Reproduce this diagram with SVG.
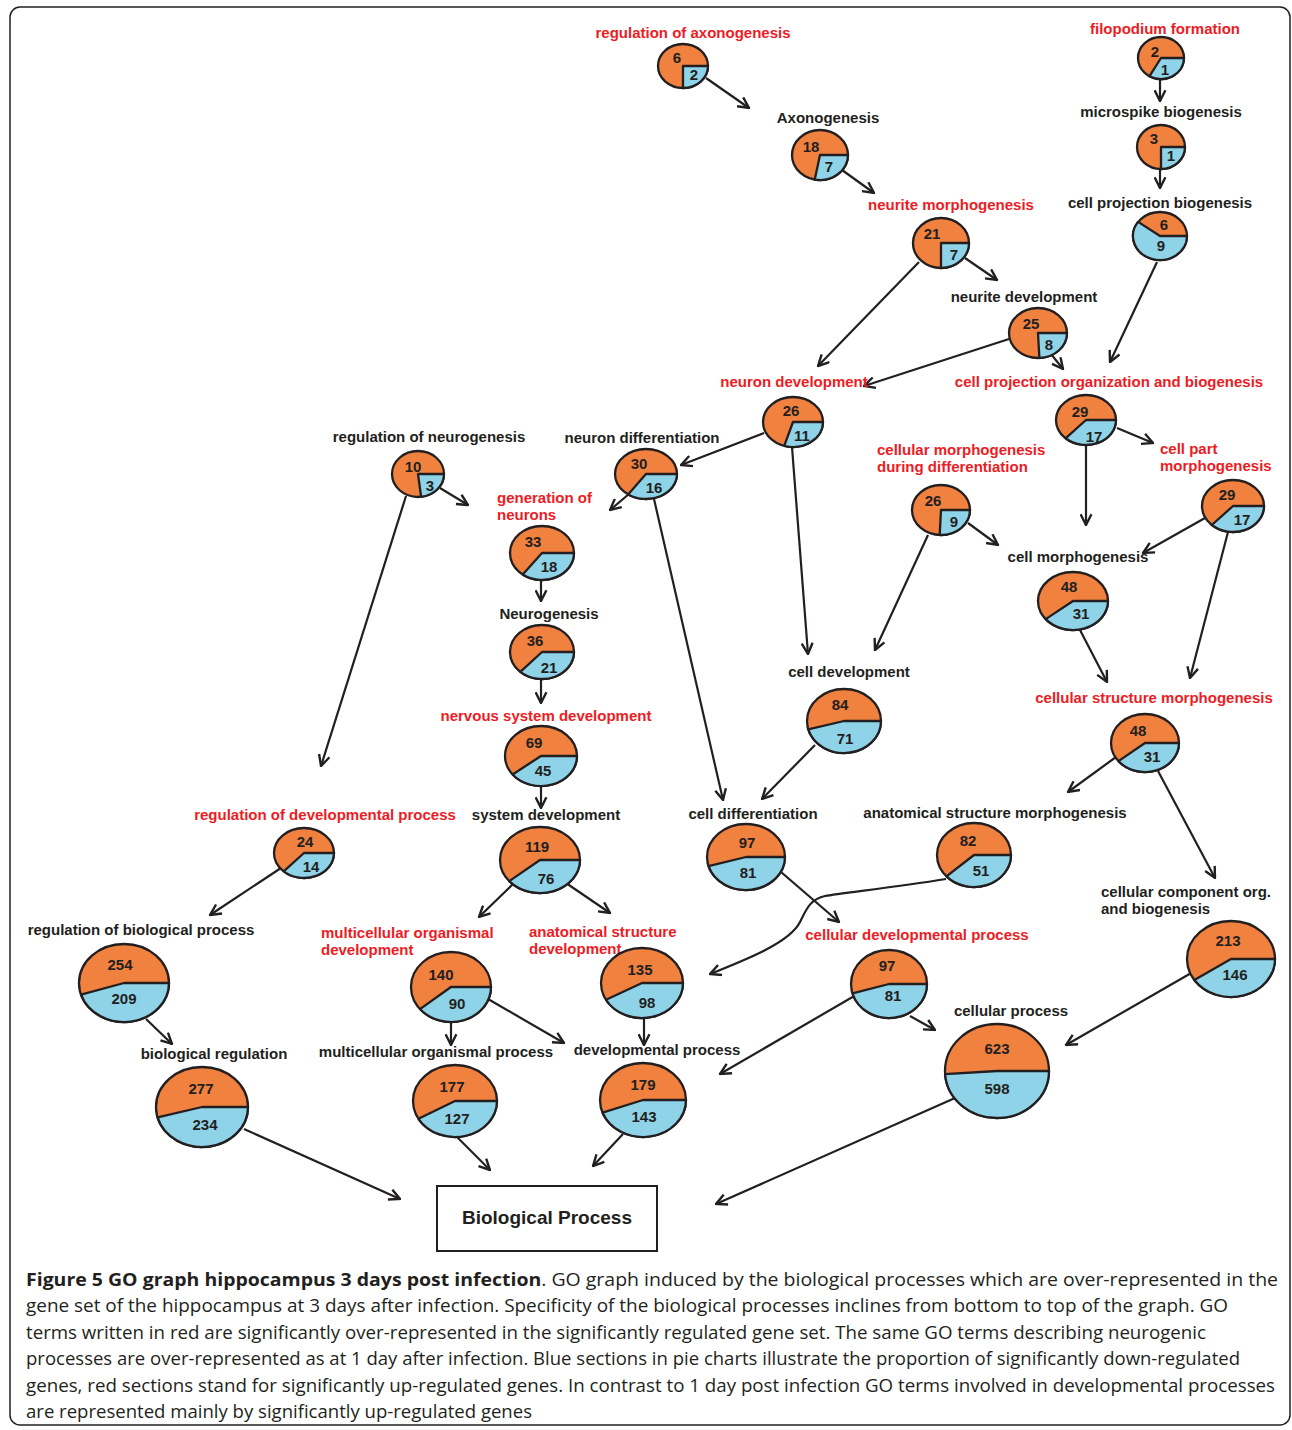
<svg xmlns="http://www.w3.org/2000/svg" width="1292" height="1430" viewBox="0 0 1292 1430">
<defs>
<style>
.lbl{font-family:"Liberation Sans",Arial,sans-serif;font-weight:bold;font-size:15px;fill:#231f20}
.c{text-anchor:middle}
.red{fill:#ed1c24}
.num{font-family:"Liberation Sans",Arial,sans-serif;font-weight:bold;font-size:15px;fill:#231f20;text-anchor:middle}
.po{fill:#f0813f;stroke:#231f20;stroke-width:2.3;vector-effect:non-scaling-stroke}
.pb{fill:#8fd3e8;stroke:#231f20;stroke-width:2.3;stroke-linejoin:round;vector-effect:non-scaling-stroke}
.edge{fill:none;stroke:#231f20;stroke-width:2.2;marker-end:url(#arr)}
.cap{font-family:"Open Sans","Noto Sans",sans-serif;font-size:18.5px;fill:#231f20}
</style>
<marker id="arr" viewBox="0 0 12 12" refX="11" refY="6" markerWidth="13" markerHeight="13" markerUnits="userSpaceOnUse" orient="auto">
<path d="M1,1 L11,6 L1,11" fill="none" stroke="#231f20" stroke-width="2.2"/>
</marker>
</defs>
<rect x="0" y="0" width="1292" height="1430" fill="#ffffff"/>
<rect x="10" y="7" width="1280" height="1418" rx="10" fill="none" stroke="#231f20" stroke-width="1.5"/>

<g id="connectors">
<line class="edge" x1="706" y1="78" x2="749" y2="108"/>
<line class="edge" x1="842" y1="170" x2="874" y2="193"/>
<line class="edge" x1="965" y1="258" x2="997" y2="280"/>
<line class="edge" x1="919" y1="262" x2="818" y2="366"/>
<line class="edge" x1="1160" y1="79" x2="1160" y2="101"/>
<line class="edge" x1="1160" y1="168" x2="1160" y2="188"/>
<line class="edge" x1="1157" y1="262" x2="1110" y2="362"/>
<line class="edge" x1="1009" y1="339" x2="864" y2="386"/>
<line class="edge" x1="1051" y1="354" x2="1063" y2="369"/>
<line class="edge" x1="764" y1="433" x2="681" y2="465"/>
<line class="edge" x1="792" y1="447" x2="808" y2="654"/>
<line class="edge" x1="629" y1="494" x2="610" y2="510"/>
<line class="edge" x1="654" y1="499" x2="723" y2="800"/>
<line class="edge" x1="440" y1="488" x2="468" y2="505"/>
<line class="edge" x1="406" y1="496" x2="321" y2="766"/>
<line class="edge" x1="541" y1="580" x2="541" y2="601"/>
<line class="edge" x1="541" y1="679" x2="541" y2="703"/>
<line class="edge" x1="541" y1="786" x2="541" y2="808"/>
<line class="edge" x1="1086" y1="445" x2="1086" y2="525"/>
<line class="edge" x1="1117" y1="428" x2="1153" y2="443"/>
<line class="edge" x1="968" y1="523" x2="998" y2="545"/>
<line class="edge" x1="928" y1="535" x2="875" y2="650"/>
<line class="edge" x1="1205" y1="518" x2="1143" y2="553"/>
<line class="edge" x1="1228" y1="532" x2="1190" y2="678"/>
<line class="edge" x1="1080" y1="630" x2="1107" y2="682"/>
<line class="edge" x1="1116" y1="757" x2="1068" y2="792"/>
<line class="edge" x1="1158" y1="771" x2="1215" y2="878"/>
<line class="edge" x1="815" y1="745" x2="762" y2="799"/>
<line class="edge" x1="281" y1="868" x2="210" y2="915"/>
<line class="edge" x1="513" y1="884" x2="479" y2="917"/>
<line class="edge" x1="566" y1="883" x2="610" y2="913"/>
<line class="edge" x1="781" y1="872" x2="839" y2="922"/>
<path class="edge" d="M946,879 C890,888 840,893 825,896 C810,899 806,910 800,922 C790,942 750,958 710,974"/>
<line class="edge" x1="146" y1="1019" x2="172" y2="1044"/>
<line class="edge" x1="451" y1="1022" x2="451" y2="1045"/>
<line class="edge" x1="488" y1="999" x2="564" y2="1043"/>
<line class="edge" x1="644" y1="1018" x2="644" y2="1045"/>
<line class="edge" x1="856" y1="995" x2="720" y2="1074"/>
<line class="edge" x1="910" y1="1016" x2="935" y2="1030"/>
<line class="edge" x1="1193" y1="972" x2="1066" y2="1045"/>
<line class="edge" x1="244" y1="1129" x2="400" y2="1199"/>
<line class="edge" x1="457" y1="1137" x2="490" y2="1170"/>
<line class="edge" x1="623" y1="1134" x2="593" y2="1166"/>
<line class="edge" x1="955" y1="1098" x2="716" y2="1204"/>
</g>

<g id="n-regulation-of-axonogenesis">
<text class="lbl red c" x="693" y="38">regulation of axonogenesis</text>
<g transform="translate(683,66) scale(25,22)"><circle class="po" r="1"/><path class="pb" d="M0,0 L1,0 A1,1 0 0 1 0,1 Z"/></g>
<text class="num" x="677" y="63">6</text><text class="num" x="694" y="80">2</text>
</g>

<g id="n-axonogenesis">
<text class="lbl c" x="828" y="123">Axonogenesis</text>
<g transform="translate(820,155) scale(28,25)"><circle class="po" r="1"/><path class="pb" d="M0,0 L1,0 A1,1 0 0 1 -0.1874,0.9823 Z"/></g>
<text class="num" x="811" y="152">18</text><text class="num" x="829" y="172">7</text>
</g>

<g id="n-neurite-morphogenesis">
<text class="lbl red c" x="951" y="210">neurite morphogenesis</text>
<g transform="translate(941,243) scale(28,25)"><circle class="po" r="1"/><path class="pb" d="M0,0 L1,0 A1,1 0 0 1 0,1 Z"/></g>
<text class="num" x="932" y="239">21</text><text class="num" x="954" y="260">7</text>
</g>

<g id="n-neurite-development">
<text class="lbl c" x="1024" y="302">neurite development</text>
<g transform="translate(1038,333) scale(29,25)"><circle class="po" r="1"/><path class="pb" d="M0,0 L1,0 A1,1 0 0 1 0.0476,0.9989 Z"/></g>
<text class="num" x="1031" y="329">25</text><text class="num" x="1049" y="350">8</text>
</g>

<g id="n-filopodium-formation">
<text class="lbl red c" x="1165" y="34">filopodium formation</text>
<g transform="translate(1161,58) scale(23,21)"><circle class="po" r="1"/><path class="pb" d="M0,0 L1,0 A1,1 0 0 1 -0.5,0.866 Z"/></g>
<text class="num" x="1155" y="57">2</text><text class="num" x="1165" y="75">1</text>
</g>

<g id="n-microspike-biogenesis">
<text class="lbl c" x="1161" y="117">microspike biogenesis</text>
<g transform="translate(1161,147) scale(24,22)"><circle class="po" r="1"/><path class="pb" d="M0,0 L1,0 A1,1 0 0 1 0,1 Z"/></g>
<text class="num" x="1154" y="144">3</text><text class="num" x="1171" y="161">1</text>
</g>

<g id="n-cell-projection-biogenesis">
<text class="lbl c" x="1160" y="208">cell projection biogenesis</text>
<g transform="translate(1160,236) scale(27,24)"><circle class="po" r="1"/><path class="pb" d="M0,0 L1,0 A1,1 0 1 1 -0.809,-0.5878 Z"/></g>
<text class="num" x="1164" y="230">6</text><text class="num" x="1161" y="251">9</text>
</g>

<g id="n-neuron-development">
<text class="lbl red c" x="794" y="387">neuron development</text>
<g transform="translate(793,422) scale(30,25)"><circle class="po" r="1"/><path class="pb" d="M0,0 L1,0 A1,1 0 0 1 -0.2928,0.9562 Z"/></g>
<text class="num" x="791" y="416">26</text><text class="num" x="802" y="441">11</text>
</g>

<g id="n-cell-projection-organization-and-biogenesis">
<text class="lbl red c" x="1109" y="387">cell projection organization and biogenesis</text>
<g transform="translate(1086,420) scale(30,25)"><circle class="po" r="1"/><path class="pb" d="M0,0 L1,0 A1,1 0 0 1 -0.6827,0.7307 Z"/></g>
<text class="num" x="1080" y="417">29</text><text class="num" x="1094" y="442">17</text>
</g>

<g id="n-regulation-of-neurogenesis">
<text class="lbl c" x="429" y="442">regulation of neurogenesis</text>
<g transform="translate(418,474) scale(26,23)"><circle class="po" r="1"/><path class="pb" d="M0,0 L1,0 A1,1 0 0 1 0.1205,0.9927 Z"/></g>
<text class="num" x="413" y="472">10</text><text class="num" x="430" y="491">3</text>
</g>

<g id="n-neuron-differentiation">
<text class="lbl c" x="642" y="443">neuron differentiation</text>
<g transform="translate(646,474) scale(31,25)"><circle class="po" r="1"/><path class="pb" d="M0,0 L1,0 A1,1 0 0 1 -0.5764,0.8171 Z"/></g>
<text class="num" x="639" y="469">30</text><text class="num" x="654" y="493">16</text>
</g>

<g id="n-generation-of-neurons">
<text class="lbl red" x="497" y="503">generation of</text>
<text class="lbl red" x="497" y="520">neurons</text>
<g transform="translate(542,553) scale(32,27)"><circle class="po" r="1"/><path class="pb" d="M0,0 L1,0 A1,1 0 0 1 -0.6026,0.798 Z"/></g>
<text class="num" x="533" y="547">33</text><text class="num" x="549" y="572">18</text>
</g>

<g id="n-neurogenesis">
<text class="lbl c" x="549" y="619">Neurogenesis</text>
<g transform="translate(542,652) scale(32,27)"><circle class="po" r="1"/><path class="pb" d="M0,0 L1,0 A1,1 0 0 1 -0.6775,0.7356 Z"/></g>
<text class="num" x="535" y="646">36</text><text class="num" x="549" y="673">21</text>
</g>

<g id="n-nervous-system-development">
<text class="lbl red c" x="546" y="721">nervous system development</text>
<g transform="translate(541,756) scale(36,30)"><circle class="po" r="1"/><path class="pb" d="M0,0 L1,0 A1,1 0 0 1 -0.7891,0.6143 Z"/></g>
<text class="num" x="534" y="748">69</text><text class="num" x="543" y="776">45</text>
</g>

<g id="n-system-development">
<text class="lbl c" x="546" y="820">system development</text>
<g transform="translate(540,860) scale(40,33)"><circle class="po" r="1"/><path class="pb" d="M0,0 L1,0 A1,1 0 0 1 -0.7694,0.6388 Z"/></g>
<text class="num" x="537" y="852">119</text><text class="num" x="546" y="884">76</text>
</g>

<g id="n-cellular-morphogenesis-during-differentiation">
<text class="lbl red" x="877" y="455">cellular morphogenesis</text>
<text class="lbl red" x="877" y="472">during differentiation</text>
<g transform="translate(941,510) scale(29,25)"><circle class="po" r="1"/><path class="pb" d="M0,0 L1,0 A1,1 0 0 1 -0.0449,0.999 Z"/></g>
<text class="num" x="933" y="506">26</text><text class="num" x="954" y="527">9</text>
</g>

<g id="n-cell-part-morphogenesis">
<text class="lbl red" x="1160" y="454">cell part</text>
<text class="lbl red" x="1160" y="471">morphogenesis</text>
<g transform="translate(1233,506) scale(31,26)"><circle class="po" r="1"/><path class="pb" d="M0,0 L1,0 A1,1 0 0 1 -0.6827,0.7307 Z"/></g>
<text class="num" x="1227" y="500">29</text><text class="num" x="1242" y="525">17</text>
</g>

<g id="n-cell-morphogenesis">
<text class="lbl c" x="1078" y="562">cell morphogenesis</text>
<g transform="translate(1073,601) scale(35,29)"><circle class="po" r="1"/><path class="pb" d="M0,0 L1,0 A1,1 0 0 1 -0.7803,0.6255 Z"/></g>
<text class="num" x="1069" y="592">48</text><text class="num" x="1081" y="619">31</text>
</g>

<g id="n-cell-development">
<text class="lbl c" x="849" y="677">cell development</text>
<g transform="translate(844,721) scale(37,32)"><circle class="po" r="1"/><path class="pb" d="M0,0 L1,0 A1,1 0 0 1 -0.9655,0.2605 Z"/></g>
<text class="num" x="840" y="710">84</text><text class="num" x="845" y="744">71</text>
</g>

<g id="n-cellular-structure-morphogenesis">
<text class="lbl red c" x="1154" y="703">cellular structure morphogenesis</text>
<g transform="translate(1145,743) scale(34,29)"><circle class="po" r="1"/><path class="pb" d="M0,0 L1,0 A1,1 0 0 1 -0.7803,0.6255 Z"/></g>
<text class="num" x="1138" y="736">48</text><text class="num" x="1152" y="762">31</text>
</g>

<g id="n-regulation-of-developmental-process">
<text class="lbl red c" x="325" y="820">regulation of developmental process</text>
<g transform="translate(304,853) scale(30,25)"><circle class="po" r="1"/><path class="pb" d="M0,0 L1,0 A1,1 0 0 1 -0.6775,0.7356 Z"/></g>
<text class="num" x="305" y="847">24</text><text class="num" x="311" y="872">14</text>
</g>

<g id="n-cell-differentiation">
<text class="lbl c" x="753" y="819">cell differentiation</text>
<g transform="translate(746,857) scale(39,33)"><circle class="po" r="1"/><path class="pb" d="M0,0 L1,0 A1,1 0 0 1 -0.9603,0.279 Z"/></g>
<text class="num" x="747" y="848">97</text><text class="num" x="748" y="878">81</text>
</g>

<g id="n-anatomical-structure-morphogenesis">
<text class="lbl c" x="995" y="818">anatomical structure morphogenesis</text>
<g transform="translate(974,855) scale(37,32)"><circle class="po" r="1"/><path class="pb" d="M0,0 L1,0 A1,1 0 0 1 -0.7438,0.6684 Z"/></g>
<text class="num" x="968" y="846">82</text><text class="num" x="981" y="876">51</text>
</g>

<g id="n-cellular-component-org-and-biogenesis">
<text class="lbl" x="1101" y="897">cellular component org.</text>
<text class="lbl" x="1101" y="914">and biogenesis</text>
<g transform="translate(1231,959) scale(44,38)"><circle class="po" r="1"/><path class="pb" d="M0,0 L1,0 A1,1 0 0 1 -0.8329,0.5534 Z"/></g>
<text class="num" x="1228" y="946">213</text><text class="num" x="1235" y="980">146</text>
</g>

<g id="n-regulation-of-biological-process">
<text class="lbl c" x="141" y="935">regulation of biological process</text>
<g transform="translate(124,983) scale(45,39)"><circle class="po" r="1"/><path class="pb" d="M0,0 L1,0 A1,1 0 0 1 -0.9537,0.3007 Z"/></g>
<text class="num" x="120" y="970">254</text><text class="num" x="124" y="1004">209</text>
</g>

<g id="n-multicellular-organismal-development">
<text class="lbl red" x="321" y="938">multicellular organismal</text>
<text class="lbl red" x="321" y="955">development</text>
<g transform="translate(451,987) scale(40,35)"><circle class="po" r="1"/><path class="pb" d="M0,0 L1,0 A1,1 0 0 1 -0.7758,0.631 Z"/></g>
<text class="num" x="441" y="980">140</text><text class="num" x="457" y="1009">90</text>
</g>

<g id="n-anatomical-structure-development">
<text class="lbl red" x="529" y="937">anatomical structure</text>
<text class="lbl red" x="529" y="954">development</text>
<g transform="translate(642,983) scale(41,35)"><circle class="po" r="1"/><path class="pb" d="M0,0 L1,0 A1,1 0 0 1 -0.878,0.4787 Z"/></g>
<text class="num" x="640" y="975">135</text><text class="num" x="647" y="1008">98</text>
</g>

<g id="n-cellular-developmental-process">
<text class="lbl red c" x="917" y="940">cellular developmental process</text>
<g transform="translate(889,984) scale(38,34)"><circle class="po" r="1"/><path class="pb" d="M0,0 L1,0 A1,1 0 0 1 -0.9603,0.279 Z"/></g>
<text class="num" x="887" y="971">97</text><text class="num" x="893" y="1001">81</text>
</g>

<g id="n-cellular-process">
<text class="lbl c" x="1011" y="1016">cellular process</text>
<g transform="translate(997,1071) scale(52,47)"><circle class="po" r="1"/><path class="pb" d="M0,0 L1,0 A1,1 0 0 1 -0.9979,0.0645 Z"/></g>
<text class="num" x="997" y="1054">623</text><text class="num" x="997" y="1094">598</text>
</g>

<g id="n-biological-regulation">
<text class="lbl c" x="214" y="1059">biological regulation</text>
<g transform="translate(202,1107) scale(46,40)"><circle class="po" r="1"/><path class="pb" d="M0,0 L1,0 A1,1 0 0 1 -0.9652,0.2614 Z"/></g>
<text class="num" x="201" y="1094">277</text><text class="num" x="205" y="1130">234</text>
</g>

<g id="n-multicellular-organismal-process">
<text class="lbl c" x="436" y="1057">multicellular organismal process</text>
<g transform="translate(455,1101) scale(42,36)"><circle class="po" r="1"/><path class="pb" d="M0,0 L1,0 A1,1 0 0 1 -0.8695,0.4939 Z"/></g>
<text class="num" x="452" y="1092">177</text><text class="num" x="457" y="1124">127</text>
</g>

<g id="n-developmental-process">
<text class="lbl c" x="657" y="1055">developmental process</text>
<g transform="translate(643,1100) scale(43,37)"><circle class="po" r="1"/><path class="pb" d="M0,0 L1,0 A1,1 0 0 1 -0.9391,0.3436 Z"/></g>
<text class="num" x="643" y="1090">179</text><text class="num" x="644" y="1122">143</text>
</g>

<g id="n-biological-process">
<rect x="437" y="1186" width="220" height="65" fill="#ffffff" stroke="#231f20" stroke-width="2"/>
<text class="lbl c" x="547" y="1224" style="font-size:19px">Biological Process</text>
</g>

<g id="caption">
<text class="cap" x="26" y="1286" textLength="1252" lengthAdjust="spacingAndGlyphs"><tspan font-weight="bold">Figure 5 GO graph hippocampus 3 days post infection</tspan>. GO graph induced by the biological processes which are over-represented in the</text>
<text class="cap" x="26" y="1312" textLength="1202" lengthAdjust="spacingAndGlyphs">gene set of the hippocampus at 3 days after infection. Specificity of the biological processes inclines from bottom to top of the graph. GO</text>
<text class="cap" x="26" y="1339" textLength="1180" lengthAdjust="spacingAndGlyphs">terms written in red are significantly over-represented in the significantly regulated gene set. The same GO terms describing neurogenic</text>
<text class="cap" x="26" y="1365" textLength="1214" lengthAdjust="spacingAndGlyphs">processes are over-represented as at 1 day after infection. Blue sections in pie charts illustrate the proportion of significantly down-regulated</text>
<text class="cap" x="26" y="1392" textLength="1249" lengthAdjust="spacingAndGlyphs">genes, red sections stand for significantly up-regulated genes. In contrast to 1 day post infection GO terms involved in developmental processes</text>
<text class="cap" x="26" y="1418" textLength="506" lengthAdjust="spacingAndGlyphs">are represented mainly by significantly up-regulated genes</text>
</g>
</svg>
